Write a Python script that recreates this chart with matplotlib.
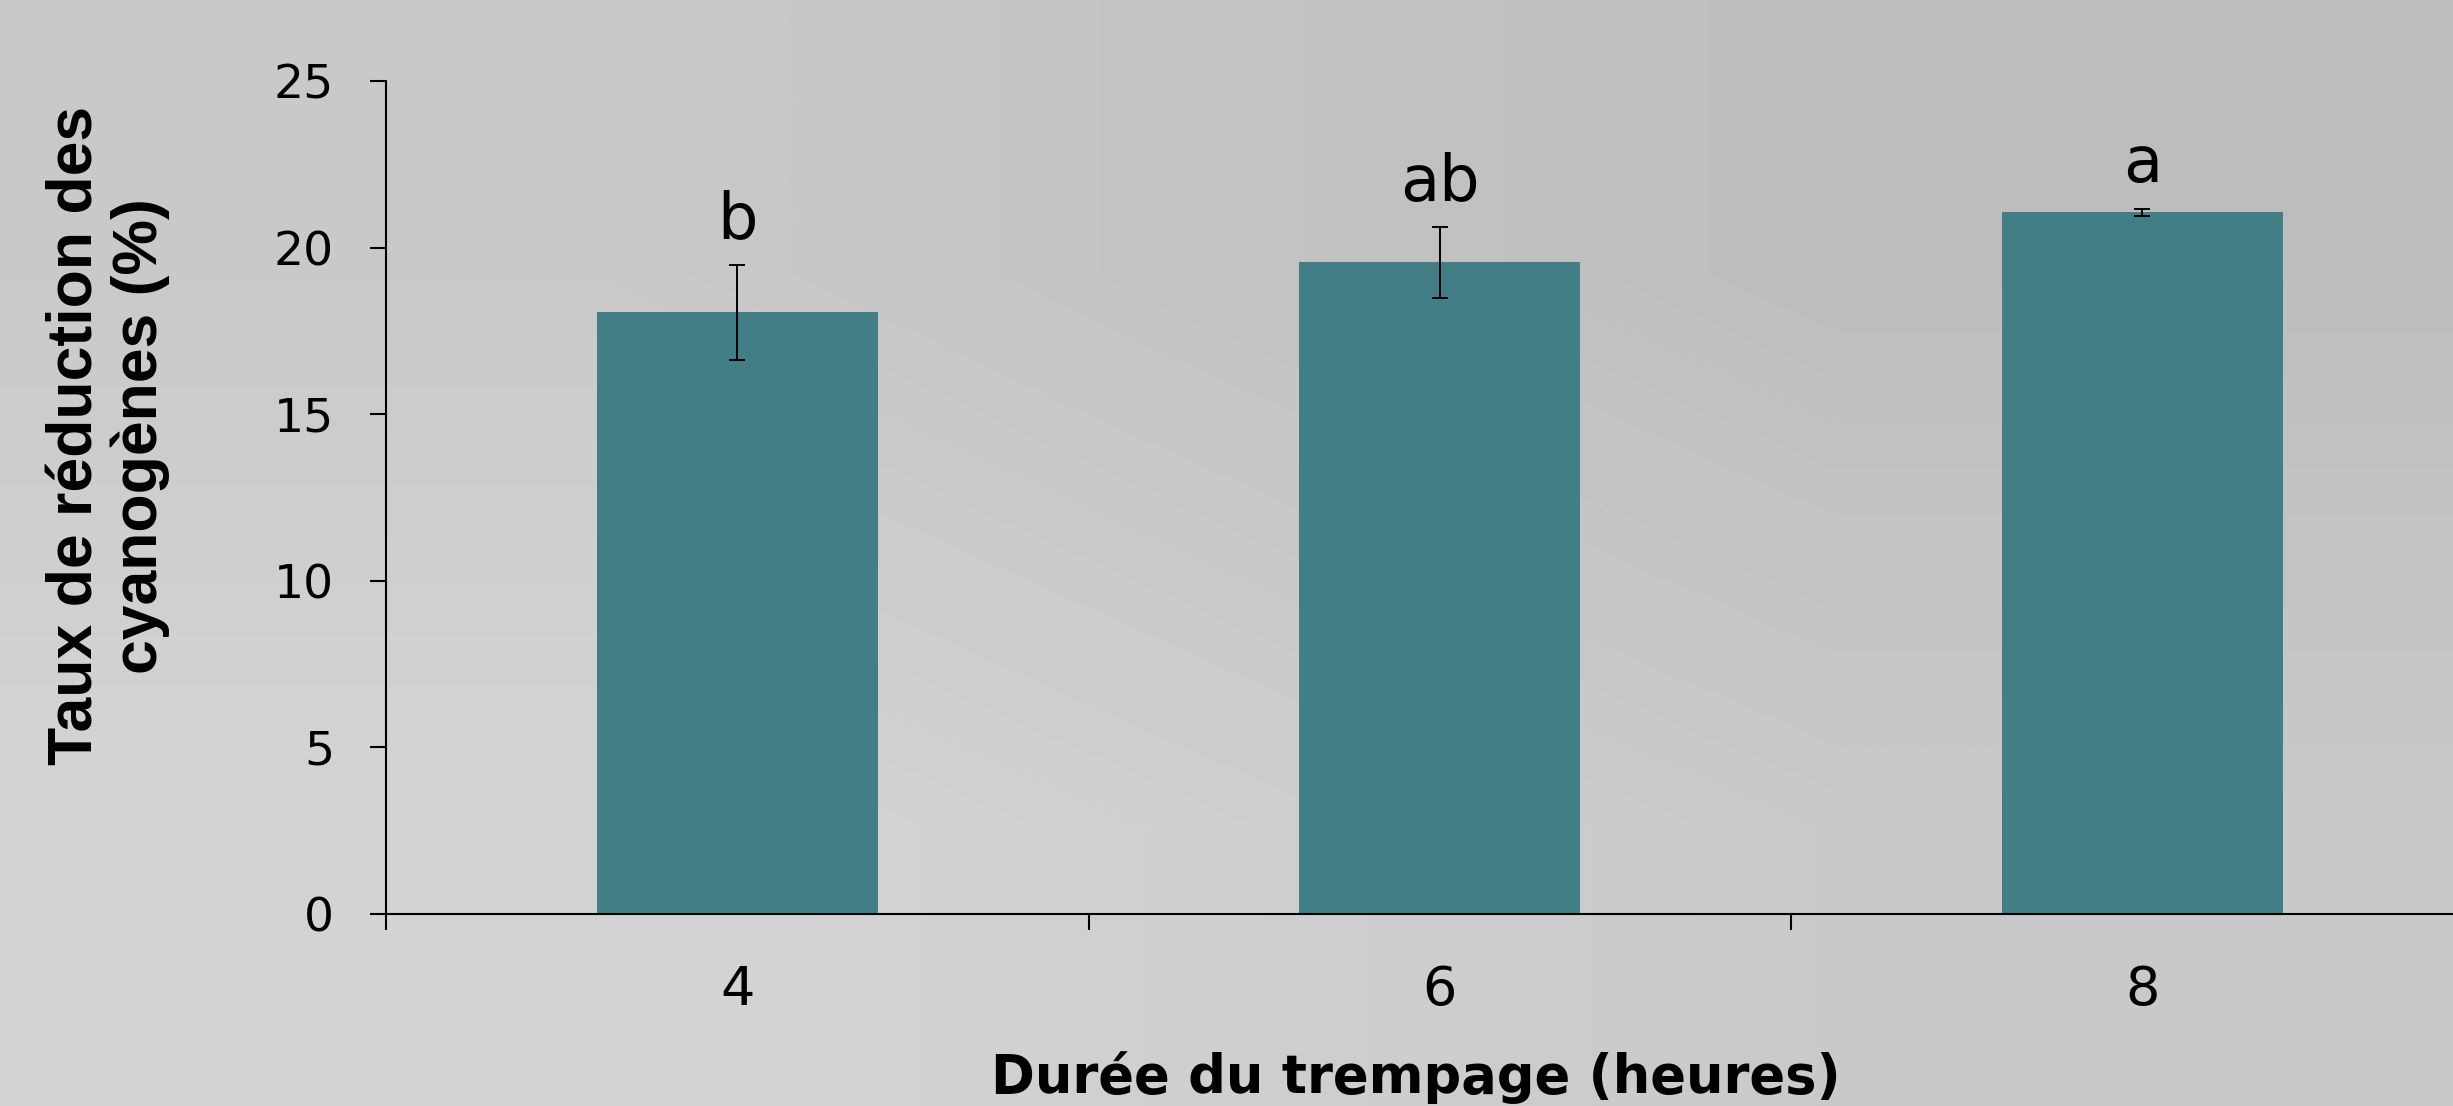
import numpy as np
import matplotlib
matplotlib.use("Agg")
from matplotlib import pyplot as plt

# durée du trempage (heures) et taux de réduction moyen (%)
durees = ["4", "6", "8"]
taux = [18.06, 19.56, 21.07]
erreurs = [1.42, 1.06, 0.10]
lettres = ["b", "ab", "a"]

couleur_barre = "#427e85"

fig = plt.figure(figsize=(24.53, 11.06), dpi=100)

# fond gris en dégradé (plus clair en bas à gauche)
fond = fig.add_axes([0, 0, 1, 1], zorder=-2)
degrade = np.array([[201, 189],
                    [212, 201]]) / 255.0
fond.imshow(degrade, extent=(0, 1, 0, 1), aspect="auto", cmap="gray",
            vmin=0, vmax=1, interpolation="bilinear")
fond.axis("off")

ax = fig.add_axes([0.1574, 0.174, 0.8592, 0.7524])
ax.set_facecolor("none")

xs = np.arange(len(durees))
ax.bar(xs, taux, width=0.4, color=couleur_barre, zorder=2)
ax.errorbar(xs, taux, yerr=erreurs, fmt="none", ecolor="black",
            elinewidth=1.4, capsize=6, capthick=1.4, zorder=3)

# lettres de significativité au-dessus des barres
for x, t, e, l in zip(xs, taux, erreurs, lettres):
    ax.text(x, t + e + 0.8, l, ha="center", va="baseline",
            fontsize=46, family="DejaVu Sans")

ax.set_xlim(-0.5, 2.5)
ax.set_ylim(0, 25)
ax.set_yticks([0, 5, 10, 15, 20, 25])

# graduations de l'axe x entre les catégories, étiquettes au centre
ax.set_xticks(xs)
ax.set_xticklabels(durees)
ax.set_xticks([-0.5, 0.5, 1.5, 2.5], minor=True)
ax.tick_params(axis="x", which="major", length=0, pad=36, labelsize=39)
ax.tick_params(axis="x", which="minor", length=11.5, width=1.5,
               direction="out", color="black")
ax.tick_params(axis="y", length=11.5, width=1.5, pad=26, labelsize=34)

for cote in ["top", "right"]:
    ax.spines[cote].set_visible(False)
for cote in ["left", "bottom"]:
    ax.spines[cote].set_linewidth(1.5)
    ax.spines[cote].set_color("black")

fig.text(0.044, 0.606, "Taux de réduction des\ncyanogènes (%)",
         rotation=90, ha="center", va="center", multialignment="center",
         fontsize=45, fontweight="bold", family="Liberation Sans",
         linespacing=1.1)
fig.text(0.577, 0.0115, "Durée du trempage (heures)", ha="center",
         va="baseline", fontsize=38, fontweight="bold", family="DejaVu Sans")

fig.savefig("out.png", dpi=100)
